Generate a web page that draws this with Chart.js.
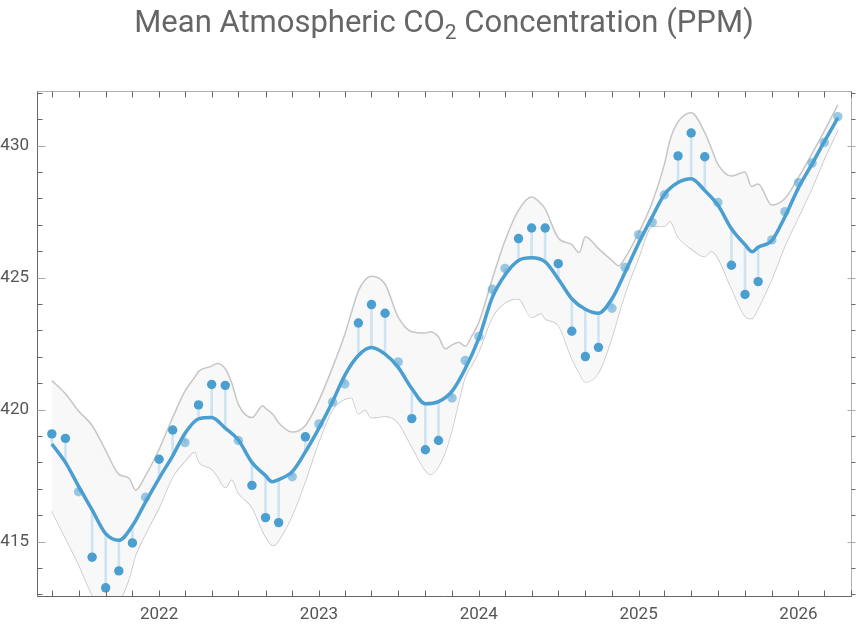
<!DOCTYPE html>
<html>
<head>
<meta charset="utf-8">
<title>Mean Atmospheric CO2 Concentration (PPM)</title>
<script src="https://cdn.jsdelivr.net/npm/chart.js@4.4.1/dist/chart.umd.min.js"></script>
<style>
  html, body { margin: 0; padding: 0; background: #fff; }
  #wrap { width: 860px; height: 628px; }
</style>
</head>
<body>
<div id="wrap"><canvas id="co2Chart"></canvas></div>
<script>
/* Monthly means, starting May 2021 (one value per month) */
let firstMonth = '2021-05';
let co2 = [
  419.08, 418.91, 416.89, 414.41, 413.25, 413.89, 414.95, 416.68,
  418.12, 419.23, 418.75, 420.18, 420.95, 420.92, 418.83, 417.13, 415.91, 415.72, 417.46, 418.97,
  419.46, 420.29, 420.97, 423.28, 423.98, 423.65, 421.81, 419.66, 418.48, 418.83, 420.44, 421.86,
  422.77, 424.56, 425.35, 426.48, 426.88, 426.88, 425.53, 422.97, 422.01, 422.36, 423.84, 425.39,
  426.63, 427.09, 428.14, 429.61, 430.48, 429.58, 427.85, 425.47, 424.36, 424.85, 426.43, 427.50,
  428.60, 429.34, 430.12, 431.10,
];

/* Smoothed trend, sampled at month offsets from firstMonth */
let trendAt = [
  0, 1, 2, 3, 4, 5, 6, 7, 8, 9, 10, 11, 12, 13, 14, 15, 16, 16.5, 17, 18, 19, 20,
  21, 22, 23, 24, 25, 26, 27, 28, 29, 30, 31, 32, 33, 34, 35, 36, 37, 38, 39, 40,
  41, 42, 43, 44, 45, 46, 47, 48, 49, 50, 51, 52, 52.55, 53, 54, 55, 56, 57, 58, 59,
];
let trend = [
  418.70, 418.00, 417.10, 416.20, 415.30, 415.05, 415.60, 416.50, 417.40, 418.25, 419.10,
  419.65, 419.70, 419.30, 418.85, 418.00, 417.50, 417.27, 417.35, 417.65, 418.40, 419.30,
  420.30, 421.30, 422.05, 422.35, 422.10, 421.60, 420.80, 420.22, 420.30, 420.70, 421.55,
  422.70, 424.25, 425.10, 425.65, 425.75, 425.60, 424.95, 424.20, 423.80, 423.65, 424.20,
  425.20, 426.30, 427.30, 428.15, 428.60, 428.75, 428.30, 427.75, 426.85, 426.25, 425.98,
  426.15, 426.40, 427.30, 428.40, 429.30, 430.15, 431.05,
];

/* Confidence band around the trend */
let bandAt = [
  0, 1, 2, 3, 4, 5, 5.75, 6.25, 7, 8, 9, 10, 10.75, 11, 12, 12.4, 13, 13.5, 14, 15,
  15.8, 16, 16.6, 17, 18, 19, 20, 21, 22, 22.5, 23, 23.5, 24, 25, 26, 27, 28, 28.4, 29, 29.5,
  30, 30.5, 31, 31.5, 32, 33, 34, 35, 36, 36.7, 37, 38, 39, 39.55, 40, 41, 42, 42.5, 43, 44,
  45, 46, 46.4, 47, 48, 49, 49.5, 50, 51, 52, 52.5, 53, 54, 55, 56, 57, 58, 59,
];
let bandHigh = [
  421.10, 420.60, 419.95, 419.40, 418.45, 417.55, 417.40, 416.95, 417.50, 418.50, 419.70, 420.70,
  421.25, 421.45, 421.65, 421.75, 421.55, 421.00, 420.20, 419.70, 420.15, 420.05, 419.80, 419.50,
  419.15, 419.40, 420.35, 421.60, 422.85, 423.70, 424.50, 424.90, 425.05, 424.75, 423.50, 422.95,
  422.90, 422.95, 422.75, 422.30, 422.45, 422.55, 422.40, 422.80, 423.30, 424.95, 426.40, 427.55,
  428.05, 427.80, 427.60, 426.50, 426.25, 425.95, 426.55, 426.10, 425.65, 425.45, 425.75, 426.70,
  427.85, 429.30, 430.20, 430.90, 431.25, 430.50, 429.90, 429.30, 428.85, 429.00, 428.45, 428.55,
  427.75, 428.00, 428.80, 429.70, 430.55, 431.55,
];
let bandLow = [
  416.15, 415.15, 414.15, 413.00, 412.30, 412.70, 413.60, 414.50, 415.30, 416.30, 417.45, 418.05,
  418.40, 418.05, 417.75, 417.50, 417.05, 417.35, 416.85, 416.30, 415.40, 415.20, 414.85, 415.05,
  416.00, 417.30, 418.80, 420.00, 420.40, 420.45, 419.85, 420.00, 419.70, 419.75, 419.50, 418.60,
  417.70, 417.55, 417.85, 418.40, 419.25, 420.30, 421.25, 421.70, 422.20, 423.50, 424.05, 424.20,
  423.50, 423.65, 423.45, 423.20, 421.95, 421.40, 421.05, 421.40, 422.75, 423.60, 424.40, 425.75,
  426.95, 426.95, 427.15, 426.55, 426.10, 425.80, 426.00, 425.75, 424.60, 423.55, 423.45, 423.85,
  424.95, 426.20, 427.30, 428.40, 429.50, 430.60,
];

/* Axis labels */
let yearTicks = [2022, 2023, 2024, 2025, 2026];
let ppmTicks = [415, 420, 425, 430];
let titleParts = [['Mean Atmospheric CO', false], ['2', true], [' Concentration (PPM)', false]];

/* Colors */
let blue = '#4a9fd0';
let blueLight = 'rgba(74, 159, 208, 0.55)';
let stemColor = '#cfe4f2';
let bandLine = '#c6c6c6';
let bandFill = '#f8f8f8';

//-----------------------------------------------//
/* Date helpers (x axis is decimal years) */
//-----------------------------------------------//
function decYear(ms) {
  let y = new Date(ms).getUTCFullYear();
  let start = Date.UTC(y, 0, 1);
  let end = Date.UTC(y + 1, 0, 1);
  return y + (ms - start) / (end - start);
}
let [y0, m0] = firstMonth.split('-').map(Number);
function monthX(k) {
  let whole = Math.floor(k);
  let a = Date.UTC(y0, m0 - 1 + whole, 1);
  let b = Date.UTC(y0, m0 + whole, 1);
  return decYear(a + (k - whole) * (b - a));
}
function trendAtMonth(i) {
  return trend[trendAt.indexOf(i)];
}

let xMin = 2021.236, xMax = 2026.329;
let yMin = 412.94, yMax = 432.07;

// ticks every two months (Jan, Mar, May ...)
let xTickValues = [];
for (let y = 2021; y <= 2026; y++) {
  for (let m = 0; m < 12; m += 2) {
    let v = decYear(Date.UTC(y, m, 1));
    if (v >= xMin && v <= xMax) xTickValues.push(v);
  }
}
let yTickValues = [];
for (let v = Math.ceil(yMin); v <= Math.floor(yMax); v++) yTickValues.push(v);

//-----------------------------------------------//
/* Frame with inward ticks, drawn from the scales */
//-----------------------------------------------//
let frameTicks = {
  id: 'frameTicks',
  afterDatasetsDraw(chart) {
    let { ctx, chartArea: a, scales } = chart;
    let x = scales.x, y = scales.y;
    let seg = (x1, y1, x2, y2, color) => {
      ctx.strokeStyle = color;
      ctx.beginPath();
      ctx.moveTo(x1, y1);
      ctx.lineTo(x2, y2);
      ctx.stroke();
    };
    ctx.save();
    ctx.lineWidth = 1;
    let L = Math.round(a.left) + 0.5, R = Math.round(a.right) + 0.5;
    let T = Math.round(a.top) + 0.5, B = Math.round(a.bottom) + 0.5;
    seg(L, T, R, T, '#b0b0b0');
    seg(R, T, R, B, '#b0b0b0');
    seg(L, T, L, B, '#666');
    seg(L, B, R, B, '#666');
    x.ticks.forEach((t) => {
      let px = Math.round(x.getPixelForValue(t.value)) + 0.5;
      seg(px, B, px, B - 6, '#666');
      seg(px, T, px, T + 6, '#666');
    });
    y.ticks.forEach((t) => {
      let py = Math.round(y.getPixelForValue(t.value)) + 0.5;
      let major = ppmTicks.includes(t.value);
      seg(L, py, L + (major ? 8 : 5), py, major ? '#aaa' : '#666');
      seg(R - (major ? 4 : 0), py, R + 4, py, major ? '#aaa' : '#666');
    });
    ctx.restore();
  },
};

//-----------------------------------------------//
/* Title with a subscript */
//-----------------------------------------------//
let subTitle = {
  id: 'subTitle',
  afterDraw(chart) {
    let { ctx, chartArea: a } = chart;
    let big = '31px Roboto', small = '21px Roboto';
    ctx.save();
    ctx.fillStyle = '#666';
    ctx.textBaseline = 'alphabetic';
    let total = 0;
    titleParts.forEach(([s, sub]) => {
      ctx.font = sub ? small : big;
      total += ctx.measureText(s).width;
    });
    let cx = (a.left + a.right) / 2 - total / 2;
    titleParts.forEach(([s, sub]) => {
      ctx.font = sub ? small : big;
      ctx.fillText(s, cx, sub ? 39 : 32);
      cx += ctx.measureText(s).width;
    });
    ctx.restore();
  },
};

//-----------------------------------------------//
/* Chart */
//-----------------------------------------------//
function co2Chart() {
  Chart.defaults.font.family = 'Roboto';
  let ctx = document.getElementById('co2Chart');

  let points = co2.map((v, i) => ({ x: monthX(i), y: v }));
  let stems = co2.map((v, i) => ({ x: monthX(i), y: [trendAtMonth(i), v] }));
  let trendLine = trend.map((v, i) => ({ x: monthX(trendAt[i]), y: v }));
  let high = bandHigh.map((v, i) => ({ x: monthX(bandAt[i]), y: v }));
  let low = bandLow.map((v, i) => ({ x: monthX(bandAt[i]), y: v }));

  new Chart(ctx, {
    type: 'line',
    data: {
      datasets: [
        {
          label: 'Monthly mean',
          data: points,
          showLine: false,
          pointRadius: 4.7,
          pointBorderWidth: 0,
          pointBackgroundColor: (c) => {
            let i = c.dataIndex;
            return Math.abs(co2[i] - trendAtMonth(i)) < 0.37 ? blueLight : blue;
          },
          order: 1,
        },
        {
          label: 'Trend',
          data: trendLine,
          borderColor: blue,
          borderWidth: 3.5,
          pointRadius: 0,
          cubicInterpolationMode: 'monotone',
          order: 0,
        },
        {
          type: 'bar',
          label: 'Residual',
          data: stems,
          backgroundColor: stemColor,
          borderWidth: 0,
          barThickness: 2,
          order: 2,
        },
        {
          label: 'Band high',
          data: high,
          borderColor: bandLine,
          borderWidth: 1.5,
          pointRadius: 0,
          cubicInterpolationMode: 'monotone',
          fill: '+1',
          backgroundColor: bandFill,
          order: 3,
        },
        {
          label: 'Band low',
          data: low,
          borderColor: bandLine,
          borderWidth: 1.5,
          pointRadius: 0,
          cubicInterpolationMode: 'monotone',
          fill: false,
          order: 4,
        },
      ],
    },
    options: {
      responsive: true,
      maintainAspectRatio: false,
      animation: false,
      events: [],
      layout: { padding: { top: 91, right: 8, left: 0, bottom: 0 } },
      plugins: {
        legend: { display: false },
        tooltip: { enabled: false },
        title: { display: false },
      },
      scales: {
        x: {
          type: 'linear',
          min: xMin,
          max: xMax,
          offset: false,
          grid: { display: false, drawTicks: false },
          border: { display: false },
          afterBuildTicks: (scale) => {
            scale.ticks = xTickValues.map((v) => ({ value: v }));
          },
          afterFit: (scale) => {
            scale.height = 32;
          },
          ticks: {
            autoSkip: false,
            maxRotation: 0,
            padding: 9,
            color: '#555',
            font: { size: 17 },
            callback: (v) => {
              let yr = Math.round(v);
              return Math.abs(v - yr) < 0.002 && yearTicks.includes(yr) ? String(yr) : '';
            },
          },
        },
        y: {
          type: 'linear',
          min: yMin,
          max: yMax,
          grid: { display: false, drawTicks: false },
          border: { display: false },
          afterBuildTicks: (scale) => {
            scale.ticks = yTickValues.map((v) => ({ value: v }));
          },
          afterFit: (scale) => {
            scale.width = 37;
          },
          ticks: {
            autoSkip: false,
            padding: 8,
            color: '#555',
            font: { size: 17 },
            callback: (v) => (ppmTicks.includes(v) ? String(v) : ''),
          },
        },
      },
    },
    plugins: [frameTicks, subTitle],
  });
}

co2Chart();
</script>
</body>
</html>
